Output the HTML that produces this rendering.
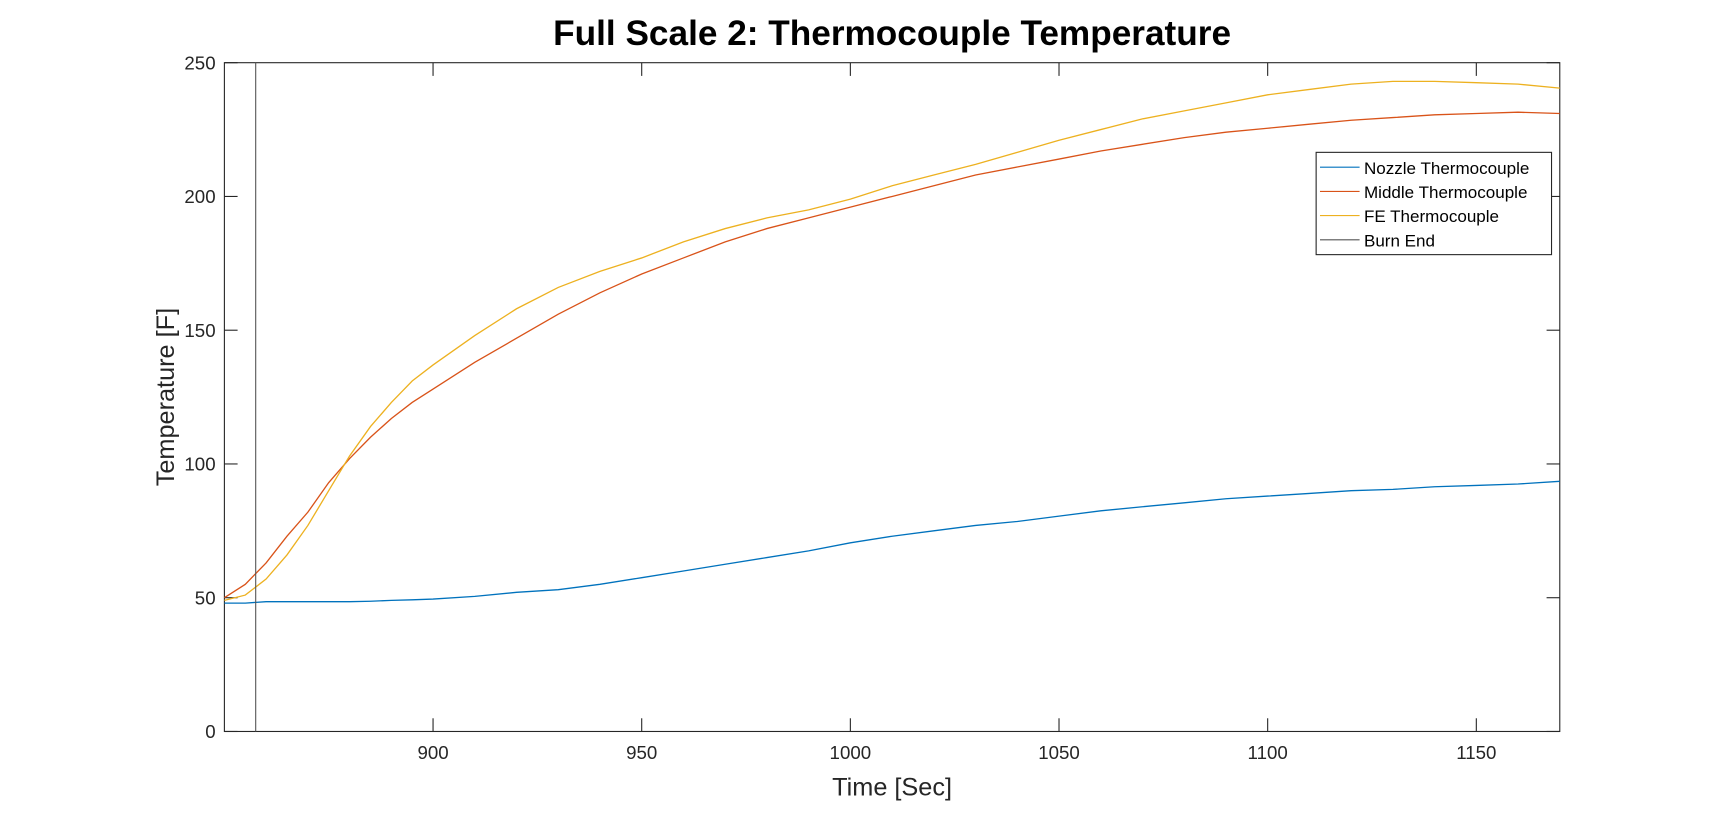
<!DOCTYPE html>
<html><head><meta charset="utf-8"><style>
body{margin:0;background:#fff;overflow:hidden;}
svg text{font-family:"Liberation Sans",Arial,sans-serif;}
</style></head><body>
<svg id="chart" width="1725" height="822" viewBox="0 0 1568.2 747.3" preserveAspectRatio="none" xmlns="http://www.w3.org/2000/svg">
<rect width="1568.2" height="747.3" fill="#fff"/>
<text x="811" y="41" text-anchor="middle" font-size="32" font-weight="bold" fill="#000">Full Scale 2: Thermocouple Temperature</text>
<g id="plot"></g>
<text x="811" y="723" text-anchor="middle" font-size="23" fill="#262626">Time [Sec]</text>
<text transform="translate(158,361) rotate(-90)" text-anchor="middle" font-size="23" fill="#262626">Temperature [F]</text>
<g>
<rect x="1196.5" y="138.5" width="214" height="93" fill="#fff" stroke="#262626" stroke-width="1"/>
<line x1="1200" y1="152" x2="1236" y2="152" stroke="#0072BD"/><text x="1240" y="158" font-size="15.5" fill="#000">Nozzle Thermocouple</text>
<line x1="1200" y1="174" x2="1236" y2="174" stroke="#D95319"/><text x="1240" y="180" font-size="15.5" fill="#000">Middle Thermocouple</text>
<line x1="1200" y1="196" x2="1236" y2="196" stroke="#EDB120"/><text x="1240" y="202" font-size="15.5" fill="#000">FE Thermocouple</text>
<line x1="1200" y1="218" x2="1236" y2="218" stroke="#555"/><text x="1240" y="224" font-size="15.5" fill="#000">Burn End</text>
</g>
</svg>
<script>
const times=[850,855,860,865,870,875,880,885,890,895,900,910,920,930,940,950,960,970,980,990,1000,1010,1020,1030,1040,1050,1060,1070,1080,1090,1100,1110,1120,1130,1140,1150,1160,1170];
const nozzle=[48,48,48.5,48.5,48.5,48.5,48.5,48.7,49,49.2,49.5,50.5,52,53,55,57.5,60,62.5,65,67.5,70.5,73,75,77,78.5,80.5,82.5,84,85.5,87,88,89,90,90.5,91.5,92,92.5,93.5];
const middle=[50,55,63,73,82,93,102,110,117,123,128,138,147,156,164,171,177,183,188,192,196,200,204,208,211,214,217,219.5,222,224,225.5,227,228.5,229.5,230.5,231,231.5,231];
const fe=[49,51,57,66,77,90,103,114,123,131,137,148,158,166,172,177,183,188,192,195,199,204,208,212,216.5,221,225,229,232,235,238,240,242,243,243,242.5,242,240.5];
const burnEnd=857.5;
const xTicks=[900,950,1000,1050,1100,1150];
const yTicks=[0,50,100,150,200,250];
const L=204,R=1418,T=57,B=665,x0=850,x1=1170,y0=0,y1=250;
const sx=v=>L+(v-x0)/(x1-x0)*(R-L);
const sy=v=>B-(v-y0)/(y1-y0)*(B-T);
const NS="http://www.w3.org/2000/svg";
const g=document.getElementById('plot');
function mk(t,a){const e=document.createElementNS(NS,t);for(const k in a)e.setAttribute(k,a[k]);g.appendChild(e);return e;}
const box=mk('rect',{x:L,y:T,width:R-L,height:B-T,fill:'none',stroke:'#262626','stroke-width':1});


xTicks.forEach(v=>{const x=sx(v);
 mk('line',{x1:x,y1:B,x2:x,y2:B-12,stroke:'#262626'});mk('line',{x1:x,y1:T,x2:x,y2:T+12,stroke:'#262626'});
 const t=mk('text',{x:x,y:B+25,'text-anchor':'middle','font-size':17,fill:'#262626'});t.textContent=v;
 
 });
yTicks.forEach(v=>{const y=sy(v);
 mk('line',{x1:L,y1:y,x2:L+12,y2:y,stroke:'#262626'});mk('line',{x1:R,y1:y,x2:R-12,y2:y,stroke:'#262626'});
 const t=mk('text',{x:L-8,y:y+6,'text-anchor':'end','font-size':17,fill:'#262626'});t.textContent=v;
 
 });
function series(vals,color,name){
 const p=times.map((t,i)=>sx(t).toFixed(1)+','+sy(vals[i]).toFixed(1)).join(' ');
 const e=mk('polyline',{points:p,fill:'none',stroke:color,'stroke-width':1.2});
 
 }
series(nozzle,'#0072BD','nozzle-line');
series(middle,'#D95319','middle-line');
series(fe,'#EDB120','fe-line');
const bl=mk('line',{x1:sx(burnEnd),y1:T,x2:sx(burnEnd),y2:B,stroke:'#555','stroke-width':1});


</script>
</body></html>
